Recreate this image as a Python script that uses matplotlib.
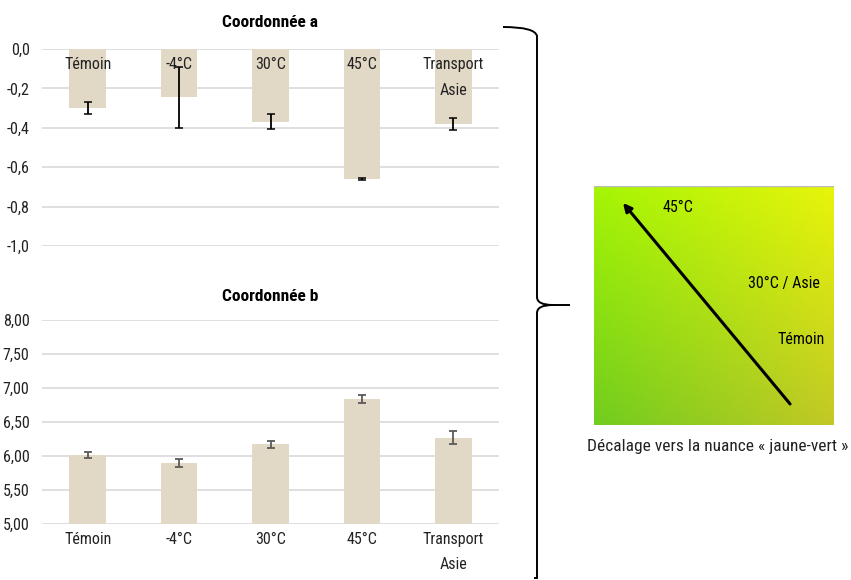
import matplotlib
matplotlib.use("Agg")
import matplotlib.pyplot as plt
from matplotlib.path import Path
from matplotlib.patches import PathPatch
from matplotlib.ticker import FuncFormatter
import numpy as np

plt.rcParams['font.family'] = ['Roboto Condensed', 'Liberation Sans', 'DejaVu Sans']

categories = ['Témoin', '-4°C', '30°C', '45°C', 'Transport\nAsie']

# coordonnée a (moyenne, écart)
a_mean = [-0.30, -0.245, -0.37, -0.66, -0.38]
a_err = [0.03, 0.155, 0.038, 0.005, 0.032]

# coordonnée b (moyenne, écart)
b_mean = [6.02, 5.90, 6.17, 6.84, 6.27]
b_err = [0.045, 0.055, 0.05, 0.055, 0.095]

shift_labels = ['45°C', '30°C / Asie', 'Témoin']

bar_color = '#E2D8C6'
grid_color = '#D9D9D9'
fs = 11.5

W, H = 851, 580
fig = plt.figure(figsize=(W / 100, H / 100), dpi=100)


def px_axes(x0, y0, x1, y1):
    # axes placed from pixel corners (top-left origin)
    return fig.add_axes([x0 / W, 1 - y1 / H, (x1 - x0) / W, (y1 - y0) / H])


def style(ax):
    for s in ax.spines.values():
        s.set_visible(False)
    ax.tick_params(length=0, labelsize=fs, colors='#222222', pad=9)
    ax.yaxis.grid(True, color=grid_color, lw=1.2)
    ax.set_axisbelow(True)


x = np.arange(len(categories))

# --- Coordonnée a ---
ax1 = px_axes(42, 49, 499, 246)
style(ax1)
ax1.bar(x, a_mean, width=0.4, color=bar_color, zorder=2)
ax1.errorbar(x, a_mean, yerr=a_err, fmt='none', ecolor='black', elinewidth=1.3,
             capsize=3, capthick=1.1, zorder=4)
ax1.set_xlim(-0.5, len(categories) - 0.5)
ax1.set_ylim(-1.0, 0.0)
ax1.set_yticks(np.arange(-1.0, 0.01, 0.2))
ax1.yaxis.set_major_formatter(FuncFormatter(lambda v, p: f'{v:.1f}'.replace('.', ',').replace('-0,0', '0,0')))
ax1.set_xticks([])
for i, c in enumerate(categories):
    ax1.text(i, -0.04, c, ha='center', va='top', fontsize=fs, linespacing=1.9,
             color='#222222', zorder=3)
ax1.set_title('Coordonnée a', fontsize=12.5, fontweight='bold', pad=16)

# --- Coordonnée b ---
ax2 = px_axes(42, 320, 499, 524)
style(ax2)
ax2.bar(x, b_mean, width=0.4, color=bar_color, zorder=2)
ax2.errorbar(x, b_mean, yerr=b_err, fmt='none', ecolor='#5A5A5A', elinewidth=1.3,
             capsize=3, capthick=1.3, zorder=4)
ax2.set_xlim(-0.5, len(categories) - 0.5)
ax2.set_ylim(5.0, 8.0)
ax2.set_yticks(np.arange(5.0, 8.01, 0.5))
ax2.yaxis.set_major_formatter(FuncFormatter(lambda v, p: f'{v:.2f}'.replace('.', ',')))
ax2.set_xticks(x)
ax2.set_xticklabels(categories, linespacing=1.8, va='top')
ax2.tick_params(axis='x', pad=6)
ax2.set_title('Coordonnée b', fontsize=12.5, fontweight='bold', pad=14)

# --- gradient panel ---
ax3 = px_axes(594, 186, 834, 425)
tl = np.array([165, 245, 5]) / 255
tr = np.array([232, 245, 10]) / 255
bl = np.array([112, 205, 30]) / 255
br = np.array([195, 200, 38]) / 255
u = np.linspace(0, 1, 200)[None, :, None]
v = np.linspace(0, 1, 200)[:, None, None]
img = (1 - v) * ((1 - u) * tl + u * tr) + v * ((1 - u) * bl + u * br)
ax3.imshow(img, extent=[0, 1, 0, 1], aspect='auto', origin='upper')
ax3.set_xlim(0, 1)
ax3.set_ylim(0, 1)
ax3.axis('off')
ax3.plot([0, 1], [1, 1], color='#BBBBBB', lw=1.0)
ax3.annotate('', xy=(0.121, 0.929), xytext=(0.817, 0.088),
             arrowprops=dict(arrowstyle='-|>', color='black', lw=2.2,
                             mutation_scale=12, shrinkA=0, shrinkB=0))
ax3.text(0.2875, 0.912, shift_labels[0], fontsize=fs, va='center', ha='left')
ax3.text(0.642, 0.594, shift_labels[1], fontsize=fs, va='center', ha='left')
ax3.text(0.7625, 0.356, shift_labels[2], fontsize=fs, va='center', ha='left')

fig.text(718 / W, 1 - 446 / H, 'Décalage vers la nuance « jaune-vert »',
         ha='center', va='center', fontsize=12.5, color='#222222')

# --- curly brace ---
ov = fig.add_axes([0, 0, 1, 1], facecolor='none')
ov.set_xlim(0, W)
ov.set_ylim(H, 0)
ov.axis('off')
verts = [(503, 27), (535, 27), (537, 36),
         (537, 297), (537, 305), (553, 305),
         (570, 305),
         (553, 305), (537, 305), (537, 313),
         (537, 578), (534, 578)]
codes = [Path.MOVETO, Path.CURVE3, Path.CURVE3,
         Path.LINETO, Path.CURVE3, Path.CURVE3,
         Path.LINETO,
         Path.MOVETO, Path.CURVE3, Path.CURVE3,
         Path.LINETO, Path.LINETO]
ov.add_patch(PathPatch(Path(verts, codes), fill=False, lw=1.4, edgecolor='black'))

fig.savefig('out.png', dpi=100)
